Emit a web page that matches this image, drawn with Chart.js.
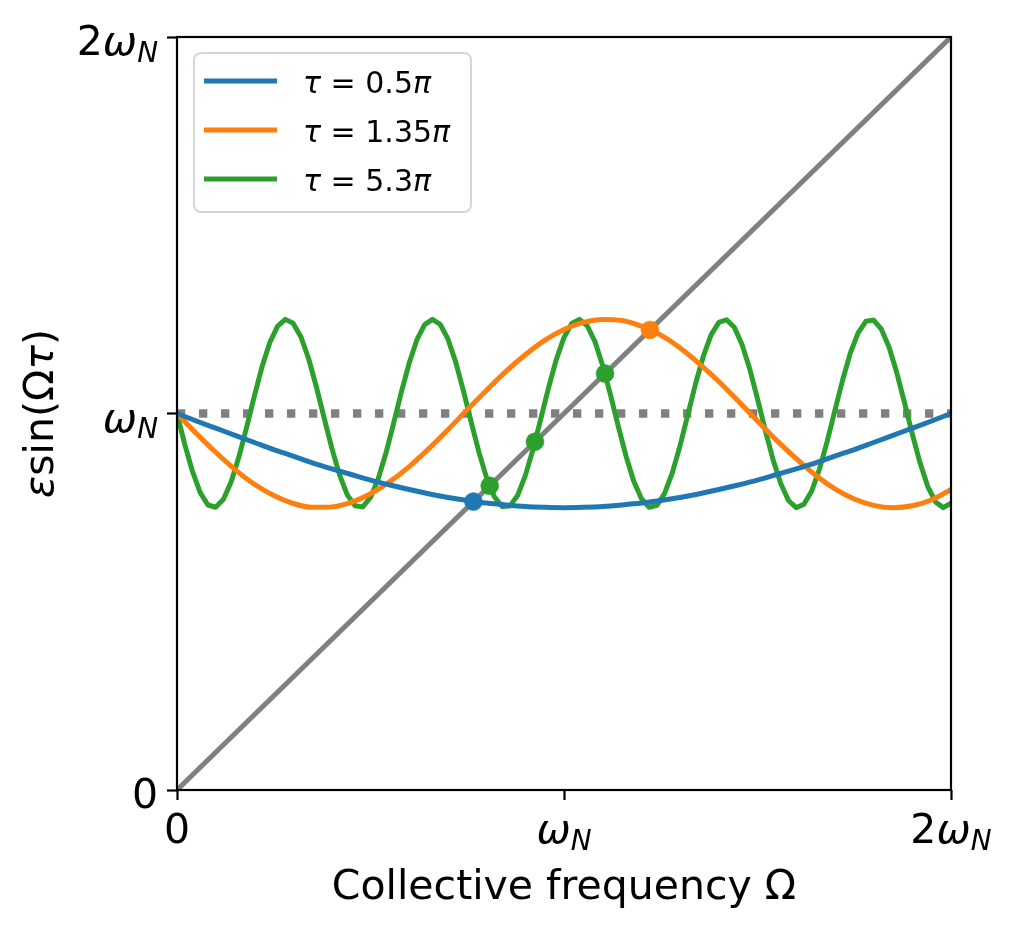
<!DOCTYPE html>
<html>
<head>
<meta charset="utf-8">
<script src="https://cdn.jsdelivr.net/npm/chart.js@4.4.1/dist/chart.umd.min.js"></script>
<style>
  html, body { margin: 0; padding: 0; background: #fff; }
  #wrap { width: 1014px; height: 931px; }
</style>
</head>
<body>
<div id="wrap"><canvas id="freqChart" width="1014" height="931"></canvas></div>
<script>
// sampled frequency grids (units of omega_N)
const omegaFine = [
  0, 0.02, 0.04, 0.06, 0.08, 0.1, 0.12, 0.14, 0.16, 0.18,
  0.2, 0.22, 0.24, 0.26, 0.28, 0.3, 0.32, 0.34, 0.36, 0.38,
  0.4, 0.42, 0.44, 0.46, 0.48, 0.5, 0.52, 0.54, 0.56, 0.58,
  0.6, 0.62, 0.64, 0.66, 0.68, 0.7, 0.72, 0.74, 0.76, 0.78,
  0.8, 0.82, 0.84, 0.86, 0.88, 0.9, 0.92, 0.94, 0.96, 0.98,
  1, 1.02, 1.04, 1.06, 1.08, 1.1, 1.12, 1.14, 1.16, 1.18,
  1.2, 1.22, 1.24, 1.26, 1.28, 1.3, 1.32, 1.34, 1.36, 1.38,
  1.4, 1.42, 1.44, 1.46, 1.48, 1.5, 1.52, 1.54, 1.56, 1.58,
  1.6, 1.62, 1.64, 1.66, 1.68, 1.7, 1.72, 1.74, 1.76, 1.78,
  1.8, 1.82, 1.84, 1.86, 1.88, 1.9, 1.92, 1.94, 1.96, 1.98,
  2
];
const omegaCoarse = [
  0, 0.05, 0.1, 0.15, 0.2, 0.25, 0.3, 0.35, 0.4, 0.45,
  0.5, 0.55, 0.6, 0.65, 0.7, 0.75, 0.8, 0.85, 0.9, 0.95,
  1, 1.05, 1.1, 1.15, 1.2, 1.25, 1.3, 1.35, 1.4, 1.45,
  1.5, 1.55, 1.6, 1.65, 1.7, 1.75, 1.8, 1.85, 1.9, 1.95,
  2
];

// tau = 0.5 pi (on omegaCoarse)
const blueVals = [
  1.000, 0.980, 0.961, 0.942, 0.923, 0.904, 0.887, 0.869, 0.853, 0.838,
  0.823, 0.810, 0.798, 0.787, 0.777, 0.769, 0.762, 0.757, 0.753, 0.751,
  0.750, 0.751, 0.753, 0.757, 0.762, 0.769, 0.777, 0.787, 0.798, 0.810,
  0.823, 0.838, 0.853, 0.869, 0.887, 0.904, 0.923, 0.942, 0.961, 0.980,
  1.000
];
// tau = 1.35 pi (on omegaCoarse)
const orangeVals = [
  1.000, 0.947, 0.897, 0.851, 0.812, 0.782, 0.761, 0.751, 0.752, 0.764,
  0.787, 0.819, 0.859, 0.906, 0.957, 1.010, 1.062, 1.112, 1.156, 1.194,
  1.223, 1.242, 1.250, 1.247, 1.232, 1.208, 1.174, 1.132, 1.085, 1.033,
  0.980, 0.928, 0.880, 0.836, 0.800, 0.773, 0.756, 0.750, 0.755, 0.771,
  0.798
];
// tau = 5.3 pi (on omegaFine)
const greenVals = [
  1.000, 0.918, 0.846, 0.790, 0.757, 0.751, 0.772, 0.819, 0.885, 0.964,
  1.047, 1.125, 1.189, 1.232, 1.250, 1.240, 1.204, 1.146, 1.071, 0.989,
  0.908, 0.837, 0.784, 0.755, 0.752, 0.777, 0.827, 0.895, 0.975, 1.058,
  1.134, 1.196, 1.236, 1.250, 1.237, 1.198, 1.137, 1.061, 0.978, 0.898,
  0.829, 0.779, 0.753, 0.754, 0.782, 0.835, 0.905, 0.986, 1.068, 1.143,
  1.202, 1.239, 1.250, 1.233, 1.191, 1.127, 1.050, 0.967, 0.888, 0.821,
  0.774, 0.751, 0.756, 0.788, 0.843, 0.915, 0.997, 1.079, 1.152, 1.209,
  1.242, 1.249, 1.229, 1.183, 1.118, 1.039, 0.956, 0.878, 0.814, 0.769,
  0.750, 0.759, 0.794, 0.852, 0.926, 1.008, 1.089, 1.161, 1.214, 1.245,
  1.248, 1.224, 1.176, 1.108, 1.028, 0.945, 0.869, 0.806, 0.765, 0.750,
  0.762
];

// reference lines
const diagX = [0, 2];
const diagY = [0, 2];
const levelX = [0, 2];
const levelY = [1, 1];

// crossing points with the diagonal
const crossBlueX = [0.766];
const crossBlueY = [0.766];
const crossOrangeX = [1.222];
const crossOrangeY = [1.222];
const crossGreenX = [0.808, 0.925, 1.106];
const crossGreenY = [0.808, 0.925, 1.106];

const seriesLabels = ['τ = 0.5π', 'τ = 1.35π', 'τ = 5.3π'];
const seriesColors = ['#1f77b4', '#ff7f0e', '#2ca02c'];

const xTickValues = [0, 1, 2];
const xTickLabels = ['0', 'ω_N', '2ω_N'];
const yTickValues = [0, 1, 2];
const yTickLabels = ['0', 'ω_N', '2ω_N'];
const xTitle = 'Collective frequency Ω';
const yTitle = 'εsin(Ωτ)';

const FAMILY = "'DejaVu Sans'";
const LW = 5;

const pts = (xs, ys) => xs.map((v, i) => ({ x: v, y: ys[i] }));

// split a small mathtext-like string into upright / italic / subscript pieces
function mathRuns(src, size) {
  const runs = [];
  let i = 0;
  while (i < src.length) {
    if (src.startsWith('sin', i)) {
      runs.push({ t: 'sin', it: false, s: size, dy: 0 });
      i += 3;
      continue;
    }
    const ch = src[i];
    if (ch === '_') {
      runs.push({ t: src[i + 1], it: true, s: size * 0.68, dy: size * 0.17 });
      i += 2;
      continue;
    }
    runs.push({ t: ch, it: /[a-zα-ω]/.test(ch), s: size, dy: 0 });
    i++;
  }
  return runs;
}

function drawRuns(ctx, runs, x, y, align) {
  let total = 0;
  runs.forEach(r => {
    ctx.font = (r.it ? 'italic ' : '') + r.s + 'px ' + FAMILY;
    r.w = ctx.measureText(r.t).width;
    total += r.w;
  });
  let cx = align === 'center' ? x - total / 2 : align === 'right' ? x - total : x;
  ctx.textAlign = 'left';
  ctx.textBaseline = 'alphabetic';
  runs.forEach(r => {
    ctx.font = (r.it ? 'italic ' : '') + r.s + 'px ' + FAMILY;
    ctx.fillText(r.t, cx, y + r.dy);
    cx += r.w;
  });
}

const decorations = {
  id: 'decorations',
  afterDraw(chart) {
    const { ctx, chartArea: a, scales } = chart;
    ctx.save();
    ctx.fillStyle = '#000';

    // axes box
    ctx.strokeStyle = '#000';
    ctx.lineWidth = 2.2;
    ctx.strokeRect(a.left, a.top, a.right - a.left, a.bottom - a.top);

    // tick labels
    xTickValues.forEach((v, i) => {
      drawRuns(ctx, mathRuns(xTickLabels[i], 41), scales.x.getPixelForValue(v), a.bottom + 53, 'center');
    });
    yTickValues.forEach((v, i) => {
      drawRuns(ctx, mathRuns(yTickLabels[i], 41), a.left - 19, scales.y.getPixelForValue(v) + 18, 'right');
    });

    // axis titles
    ctx.font = '41px ' + FAMILY;
    ctx.textAlign = 'center';
    ctx.fillText(xTitle, (a.left + a.right) / 2, 899);

    ctx.save();
    ctx.translate(53, (a.top + a.bottom) / 2);
    ctx.rotate(-Math.PI / 2);
    drawRuns(ctx, mathRuns(yTitle, 41), 0, 0, 'center');
    ctx.restore();

    // legend
    const lx = a.left + 17, ly = a.top + 16;
    ctx.beginPath();
    ctx.roundRect(lx, ly, 277, 159, 7);
    ctx.fillStyle = 'rgba(255,255,255,0.8)';
    ctx.fill();
    ctx.strokeStyle = '#d6d6d6';
    ctx.lineWidth = 2;
    ctx.stroke();

    seriesLabels.forEach((lab, i) => {
      const rowY = a.top + 44 + i * 49;
      ctx.beginPath();
      ctx.moveTo(a.left + 27, rowY);
      ctx.lineTo(a.left + 100, rowY);
      ctx.strokeStyle = seriesColors[i];
      ctx.lineWidth = LW;
      ctx.stroke();
      ctx.fillStyle = '#000';
      drawRuns(ctx, mathRuns(lab, 30), a.left + 126, rowY + 12, 'left');
    });

    ctx.restore();
  }
};

const lineStyle = {
  pointRadius: 0,
  borderWidth: LW,
  tension: 0,
  fill: false,
  borderJoinStyle: 'round'
};

const smoothStyle = { ...lineStyle, cubicInterpolationMode: 'monotone' };

const markerStyle = (color) => ({
  showLine: false,
  pointRadius: 9,
  pointBorderWidth: 0.5,
  pointBackgroundColor: color,
  pointBorderColor: color,
  backgroundColor: color,
  borderColor: color
});

new Chart(document.getElementById('freqChart'), {
  type: 'line',
  data: {
    datasets: [
      { label: 'cross blue', data: pts(crossBlueX, crossBlueY), order: 0, ...markerStyle(seriesColors[0]) },
      { label: 'cross orange', data: pts(crossOrangeX, crossOrangeY), order: 0, ...markerStyle(seriesColors[1]) },
      { label: 'cross green', data: pts(crossGreenX, crossGreenY), order: 0, ...markerStyle(seriesColors[2]) },
      { label: seriesLabels[0], data: pts(omegaCoarse, blueVals), borderColor: seriesColors[0], order: 1, ...smoothStyle },
      { label: seriesLabels[1], data: pts(omegaCoarse, orangeVals), borderColor: seriesColors[1], order: 2, ...smoothStyle },
      { label: seriesLabels[2], data: pts(omegaFine, greenVals), borderColor: seriesColors[2], order: 3, ...lineStyle },
      { label: 'diagonal', data: pts(diagX, diagY), borderColor: '#808080', order: 4, ...lineStyle },
      { label: 'level', data: pts(levelX, levelY), borderColor: '#808080', order: 5, ...lineStyle,
        borderWidth: 8.3, borderDash: [8.3, 13.7], borderCapStyle: 'butt' }
    ]
  },
  options: {
    responsive: false,
    animation: false,
    devicePixelRatio: 1,
    layout: { padding: { left: 0, top: 37, right: 63, bottom: 0 } },
    plugins: {
      legend: { display: false },
      tooltip: { enabled: false }
    },
    scales: {
      x: {
        type: 'linear',
        min: 0,
        max: 2,
        afterBuildTicks: s => { s.ticks = xTickValues.map(v => ({ value: v })); },
        afterFit: s => { s.height = 141; },
        ticks: { display: false },
        grid: { drawOnChartArea: false, drawTicks: true, tickLength: 10, tickWidth: 2.2, tickColor: '#000', color: '#000' },
        border: { display: false }
      },
      y: {
        type: 'linear',
        min: 0,
        max: 2,
        afterBuildTicks: s => { s.ticks = yTickValues.map(v => ({ value: v })); },
        afterFit: s => { s.width = 177; },
        ticks: { display: false },
        grid: { drawOnChartArea: false, drawTicks: true, tickLength: 10, tickWidth: 2.2, tickColor: '#000', color: '#000' },
        border: { display: false }
      }
    }
  },
  plugins: [decorations]
});
</script>
</body>
</html>
